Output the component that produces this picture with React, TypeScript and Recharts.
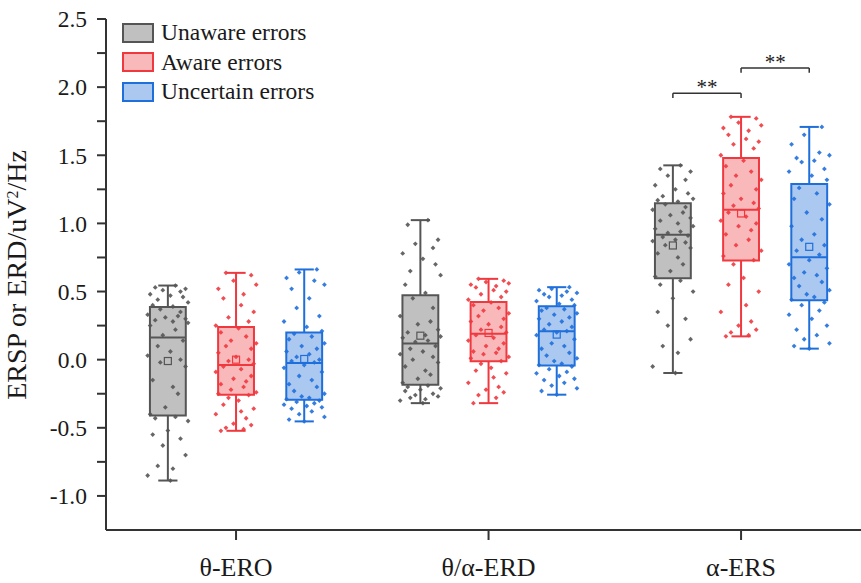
import { ScatterChart, Scatter, XAxis, YAxis, ReferenceArea, ReferenceLine, ReferenceDot, Legend } from 'recharts'

const CATEGORIES = ['θ-ERO', 'θ/α-ERD', 'α-ERS']
const Y_TICKS = [-1.0, -0.75, -0.5, -0.25, 0, 0.25, 0.5, 0.75, 1.0, 1.25, 1.5, 1.75, 2.0, 2.25, 2.5]

// box stats per category (θ-ERO, θ/α-ERD, α-ERS)
const UNAWARE_MIN = [-0.887, -0.319, -0.098]
const UNAWARE_Q1 = [-0.41, -0.184, 0.598]
const UNAWARE_MED = [0.162, 0.118, 0.917]
const UNAWARE_Q3 = [0.387, 0.473, 1.147]
const UNAWARE_MAX = [0.544, 1.024, 1.426]
const UNAWARE_MEAN = [-0.01, 0.176, 0.838]

const AWARE_MIN = [-0.522, -0.319, 0.171]
const AWARE_Q1 = [-0.257, -0.012, 0.728]
const AWARE_MED = [-0.04, 0.191, 1.1]
const AWARE_Q3 = [0.24, 0.424, 1.48]
const AWARE_MAX = [0.637, 0.593, 1.782]
const AWARE_MEAN = [0.0, 0.196, 1.073]

const UNCERTAIN_MIN = [-0.453, -0.257, 0.081]
const UNCERTAIN_Q1 = [-0.294, -0.042, 0.436]
const UNCERTAIN_MED = [-0.025, 0.208, 0.752]
const UNCERTAIN_Q3 = [0.2, 0.392, 1.29]
const UNCERTAIN_MAX = [0.662, 0.532, 1.708]
const UNCERTAIN_MEAN = [0.005, 0.184, 0.828]

// individual subjects
const UNAWARE_POINTS = [
  [0.544, 0.53, 0.52, 0.51, 0.5, 0.48, 0.47, 0.46, 0.44, 0.42, 0.4, 0.39,
   0.37, 0.35, 0.33, 0.32, 0.31, 0.3, 0.29, 0.28, 0.27, 0.25, 0.22, 0.18,
   0.14, 0.1, 0.06, 0.03, 0.0, -0.02, -0.05, -0.15, -0.2, -0.25, -0.35, -0.4,
   -0.42, -0.43, -0.45, -0.52, -0.55, -0.58, -0.63, -0.7, -0.78, -0.8, -0.85, -0.887],
  [1.024, 0.99, 0.88, 0.85, 0.82, 0.78, 0.74, 0.7, 0.65, 0.62, 0.55, 0.49,
   0.45, 0.38, 0.32, 0.28, 0.26, 0.22, 0.2, 0.18, 0.17, 0.16, 0.14, 0.13,
   0.1, 0.08, 0.06, 0.04, 0.02, 0.0, -0.02, -0.05, -0.08, -0.11, -0.14, -0.17,
   -0.19, -0.2, -0.21, -0.22, -0.23, -0.25, -0.26, -0.27, -0.28, -0.29, -0.3, -0.319],
  [1.426, 1.4, 1.38, 1.35, 1.32, 1.28, 1.25, 1.22, 1.2, 1.18, 1.17, 1.16,
   1.14, 1.12, 1.1, 1.08, 1.06, 1.04, 1.02, 1.0, 0.98, 0.96, 0.94, 0.93,
   0.91, 0.9, 0.88, 0.87, 0.86, 0.84, 0.82, 0.78, 0.75, 0.7, 0.65, 0.61,
   0.58, 0.55, 0.5, 0.45, 0.35, 0.3, 0.25, 0.15, 0.1, 0.05, -0.05, -0.098],
]
const AWARE_POINTS = [
  [0.637, 0.62, 0.58, 0.55, 0.52, 0.48, 0.45, 0.4, 0.35, 0.31, 0.28, 0.25,
   0.23, 0.2, 0.17, 0.14, 0.12, 0.1, 0.08, 0.05, 0.02, 0.0, -0.01, -0.03,
   -0.05, -0.07, -0.09, -0.12, -0.14, -0.16, -0.18, -0.2, -0.22, -0.24, -0.25, -0.26,
   -0.28, -0.3, -0.33, -0.36, -0.38, -0.4, -0.43, -0.47, -0.48, -0.5, -0.51, -0.522],
  [0.593, 0.58, 0.57, 0.56, 0.55, 0.54, 0.53, 0.51, 0.5, 0.48, 0.46, 0.44,
   0.42, 0.4, 0.38, 0.36, 0.34, 0.32, 0.3, 0.28, 0.26, 0.24, 0.22, 0.2,
   0.18, 0.16, 0.14, 0.12, 0.1, 0.08, 0.06, 0.05, 0.04, 0.02, 0.01, -0.01,
   -0.03, -0.06, -0.08, -0.1, -0.13, -0.17, -0.2, -0.22, -0.24, -0.26, -0.28, -0.319],
  [1.782, 1.77, 1.74, 1.72, 1.7, 1.68, 1.65, 1.62, 1.6, 1.58, 1.55, 1.5,
   1.46, 1.42, 1.38, 1.35, 1.32, 1.28, 1.25, 1.22, 1.18, 1.15, 1.13, 1.11,
   1.08, 1.05, 1.02, 1.0, 0.98, 0.95, 0.92, 0.88, 0.84, 0.8, 0.76, 0.73,
   0.7, 0.6, 0.55, 0.5, 0.4, 0.35, 0.28, 0.25, 0.22, 0.2, 0.18, 0.171],
]
const UNCERTAIN_POINTS = [
  [0.662, 0.64, 0.6, 0.58, 0.55, 0.52, 0.45, 0.38, 0.32, 0.28, 0.24, 0.21,
   0.19, 0.17, 0.15, 0.12, 0.1, 0.08, 0.06, 0.04, 0.02, 0.0, -0.01, -0.02,
   -0.04, -0.06, -0.09, -0.12, -0.15, -0.18, -0.2, -0.23, -0.25, -0.27, -0.28, -0.29,
   -0.3, -0.31, -0.32, -0.33, -0.34, -0.35, -0.36, -0.38, -0.4, -0.42, -0.44, -0.453],
  [0.532, 0.52, 0.51, 0.5, 0.49, 0.48, 0.47, 0.46, 0.44, 0.43, 0.41, 0.4,
   0.38, 0.37, 0.36, 0.34, 0.33, 0.31, 0.3, 0.28, 0.26, 0.24, 0.22, 0.21,
   0.2, 0.18, 0.15, 0.12, 0.1, 0.08, 0.05, 0.03, 0.01, -0.01, -0.03, -0.04,
   -0.05, -0.07, -0.09, -0.1, -0.12, -0.14, -0.15, -0.17, -0.19, -0.21, -0.23, -0.257],
  [1.708, 1.65, 1.58, 1.52, 1.5, 1.48, 1.46, 1.45, 1.4, 1.38, 1.35, 1.32,
   1.26, 1.22, 1.18, 1.14, 1.08, 1.03, 0.98, 0.92, 0.88, 0.84, 0.8, 0.77,
   0.73, 0.7, 0.67, 0.64, 0.62, 0.6, 0.57, 0.54, 0.51, 0.48, 0.46, 0.44,
   0.42, 0.4, 0.36, 0.33, 0.3, 0.25, 0.22, 0.18, 0.15, 0.12, 0.1, 0.081],
]

// horizontal jitter of each subject's dot (in category units)
const UNAWARE_JITTER = [
  0.03, -0.05, 0.07, -0.02, 0.05, -0.07, 0.01, 0.06, -0.04, 0.08, -0.06, 0.02,
  -0.03, 0.05, -0.08, 0.04, -0.01, 0.07, -0.05, 0.02, 0.08, -0.07, 0.03, -0.02,
  0.06, -0.04, 0.01, -0.08, 0.05, -0.03, 0.07, -0.06, 0.02, 0.04, -0.01, -0.07,
  0.03, -0.05, 0.08, 0.0, -0.06, 0.05, -0.02, 0.07, -0.04, 0.02, -0.08, 0.01,
]
const AWARE_JITTER = [
  -0.04, 0.06, -0.01, 0.08, -0.07, 0.03, -0.05, 0.02, 0.07, -0.03, 0.05, -0.08,
  0.01, -0.06, 0.04, -0.02, 0.08, -0.04, 0.06, -0.07, 0.0, 0.05, -0.03, 0.07,
  -0.05, 0.02, -0.08, 0.06, -0.01, 0.04, -0.06, 0.03, -0.02, 0.08, -0.07, 0.05,
  -0.03, 0.01, -0.05, 0.07, 0.02, -0.08, 0.04, -0.01, 0.06, -0.04, 0.03, -0.06,
]
const UNCERTAIN_JITTER = [
  0.05, -0.02, -0.07, 0.04, 0.08, -0.05, 0.02, -0.03, 0.06, -0.08, 0.01, 0.07,
  -0.04, 0.03, -0.06, 0.08, -0.01, 0.05, -0.07, 0.02, -0.03, 0.06, -0.05, 0.04,
  0.0, -0.08, 0.07, -0.02, 0.03, -0.06, 0.05, -0.04, 0.08, -0.01, 0.02, -0.07,
  0.06, -0.03, 0.04, -0.08, 0.01, 0.07, -0.05, 0.03, -0.02, 0.08, -0.06, 0.0,
]

const SERIES = [
  { name: 'Unaware errors', stroke: '#555555', fill: '#c0c0c0', offset: -0.27,
    min: UNAWARE_MIN, q1: UNAWARE_Q1, med: UNAWARE_MED, q3: UNAWARE_Q3, max: UNAWARE_MAX, mean: UNAWARE_MEAN,
    points: UNAWARE_POINTS, jitter: UNAWARE_JITTER },
  { name: 'Aware errors', stroke: '#f0383f', fill: '#f9b9bb', offset: 0,
    min: AWARE_MIN, q1: AWARE_Q1, med: AWARE_MED, q3: AWARE_Q3, max: AWARE_MAX, mean: AWARE_MEAN,
    points: AWARE_POINTS, jitter: AWARE_JITTER },
  { name: 'Uncertain errors', stroke: '#1f6fdb', fill: '#abc8f0', offset: 0.27,
    min: UNCERTAIN_MIN, q1: UNCERTAIN_Q1, med: UNCERTAIN_MED, q3: UNCERTAIN_Q3, max: UNCERTAIN_MAX, mean: UNCERTAIN_MEAN,
    points: UNCERTAIN_POINTS, jitter: UNCERTAIN_JITTER },
]

// significance brackets in α-ERS: [from series, to series, level]
const SIG = [
  { from: 0, to: 1, cat: 2, y: 1.956, label: '**' },
  { from: 1, to: 2, cat: 2, y: 2.14, label: '**' },
]

const FONT = '"Liberation Serif", "Times New Roman", serif'
const AXIS = '#333'
const BOX_HALF = 0.071
const CAP_HALF = 0.038

const Diamond = (props: any) => {
  const { cx, cy, color } = props
  const r = 2.4
  return <path d={`M${cx},${cy - r}L${cx + r},${cy}L${cx},${cy + r}L${cx - r},${cy}Z`} fill={color} fillOpacity={0.9} />
}

const MeanSquare = (props: any) => {
  const { cx, cy, color } = props
  return <rect x={cx - 3.5} y={cy - 3.5} width={7} height={7} fill="none" stroke={color} strokeWidth={1.2} />
}

const LegendBox = () => (
  <div style={{ fontFamily: FONT }}>
    {SERIES.map((s) => (
      <div key={s.name} style={{ display: 'flex', alignItems: 'center', height: 29.5 }}>
        <div style={{ width: 28, height: 16, background: s.fill, border: `2px solid ${s.stroke}` }} />
        <span style={{ marginLeft: 7, fontSize: 23.5, color: '#1a1a1a' }}>{s.name}</span>
      </div>
    ))}
  </div>
)

const YLabel = () => (
  <text x={0} y={0} transform="translate(26,275) rotate(-90)" textAnchor="middle" fontFamily={FONT} fontSize={28} fill="#1a1a1a">
    ERSP or ERD/uV<tspan baselineShift="super" fontSize={16}>2</tspan>/Hz
  </text>
)

export default function App() {
  const pos = (cat: number, s: number) => cat + 1 + SERIES[s].offset

  return (
    <div style={{ position: 'absolute', left: 0, top: 0, background: '#fff' }}>
      <ScatterChart width={861} height={583} margin={{ top: 19, right: 0, bottom: 0, left: 0 }}>
        <XAxis
          type="number"
          dataKey="x"
          domain={[0.485, 3.475]}
          ticks={[1, 2, 3]}
          tickFormatter={(v) => CATEGORIES[v - 1] ?? ''}
          allowDataOverflow
          height={53}
          tickSize={10}
          tickMargin={18}
          stroke={AXIS}
          strokeWidth={2}
          tick={{ fill: '#1a1a1a', fontSize: 26, fontFamily: FONT }}
        />
        <YAxis
          type="number"
          dataKey="y"
          domain={[-1.25, 2.5]}
          ticks={Y_TICKS}
          interval={0}
          tickFormatter={(v) => (Math.abs(v * 2 - Math.round(v * 2)) < 1e-9 ? v.toFixed(1) : '')}
          allowDataOverflow
          width={106}
          tickSize={9}
          tickMargin={10}
          stroke={AXIS}
          strokeWidth={2}
          tick={{ fill: '#1a1a1a', fontSize: 23.5, fontFamily: FONT }}
          label={{ content: () => <YLabel /> }}
        />
        <Legend layout="vertical" verticalAlign="middle" align="center" content={() => <LegendBox />}
          wrapperStyle={{ top: 18, left: 122, width: 260, height: 90 }} />

        {SERIES.map((s, si) =>
          CATEGORIES.map((_, ci) => {
            const x = pos(ci, si)
            return [
              <ReferenceArea key={`box-${si}-${ci}`} x1={x - BOX_HALF} x2={x + BOX_HALF} y1={s.q1[ci]} y2={s.q3[ci]}
                fill={s.fill} fillOpacity={1} stroke={s.stroke} strokeWidth={2} strokeOpacity={1} />,
              <ReferenceLine key={`wt-${si}-${ci}`} segment={[{ x, y: s.q3[ci] }, { x, y: s.max[ci] }]} stroke={s.stroke} strokeWidth={2} />,
              <ReferenceLine key={`wb-${si}-${ci}`} segment={[{ x, y: s.min[ci] }, { x, y: s.q1[ci] }]} stroke={s.stroke} strokeWidth={2} />,
              <ReferenceLine key={`ct-${si}-${ci}`} segment={[{ x: x - CAP_HALF, y: s.max[ci] }, { x: x + CAP_HALF, y: s.max[ci] }]} stroke={s.stroke} strokeWidth={2} />,
              <ReferenceLine key={`cb-${si}-${ci}`} segment={[{ x: x - CAP_HALF, y: s.min[ci] }, { x: x + CAP_HALF, y: s.min[ci] }]} stroke={s.stroke} strokeWidth={2} />,
              <ReferenceLine key={`md-${si}-${ci}`} segment={[{ x: x - BOX_HALF, y: s.med[ci] }, { x: x + BOX_HALF, y: s.med[ci] }]} stroke={s.stroke} strokeWidth={2} />,
            ]
          })
        )}

        {SERIES.map((s, si) => (
          <Scatter
            key={`pts-${si}`}
            name={s.name}
            legendType="none"
            isAnimationActive={false}
            data={s.points.flatMap((vals, ci) => vals.map((v, i) => ({ x: pos(ci, si) + s.jitter[i], y: v })))}
            shape={(p: any) => <Diamond {...p} color={s.stroke} />}
          />
        ))}

        {SERIES.map((s, si) => (
          <Scatter
            key={`mean-${si}`}
            legendType="none"
            isAnimationActive={false}
            data={s.mean.map((m, ci) => ({ x: pos(ci, si), y: m }))}
            shape={(p: any) => <MeanSquare {...p} color={s.stroke} />}
          />
        ))}

        {SIG.map((g, i) => {
          const x1 = pos(g.cat, g.from)
          const x2 = pos(g.cat, g.to)
          return [
            <ReferenceLine key={`sh-${i}`} segment={[{ x: x1, y: g.y }, { x: x2, y: g.y }]} stroke={AXIS} strokeWidth={1.5} />,
            <ReferenceLine key={`sl-${i}`} segment={[{ x: x1, y: g.y }, { x: x1, y: g.y - 0.035 }]} stroke={AXIS} strokeWidth={1.5} />,
            <ReferenceLine key={`sr-${i}`} segment={[{ x: x2, y: g.y }, { x: x2, y: g.y - 0.035 }]} stroke={AXIS} strokeWidth={1.5} />,
            <ReferenceDot key={`st-${i}`} x={(x1 + x2) / 2} y={g.y + 0.045} r={0} fill="none" stroke="none"
              label={{ value: g.label, fontSize: 21, fontFamily: FONT, fill: '#1a1a1a' }} />,
          ]
        })}
      </ScatterChart>
    </div>
  )
}
